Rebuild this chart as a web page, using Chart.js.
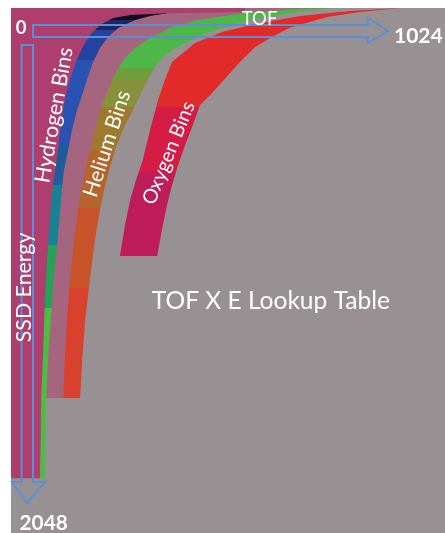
<!DOCTYPE html>
<html>
<head>
<meta charset="utf-8">
<script src="https://cdn.jsdelivr.net/npm/chart.js@4.4.0/dist/chart.umd.min.js"></script>
<style>
html,body{margin:0;padding:0;background:#ffffff;}
canvas{display:block;}
</style>
</head>
<body>
<canvas id="c" width="445" height="533"></canvas>
<script>
// ---- axis ranges / tick labels ----
const tofRange = [0, 1024];
const energyRange = [0, 2048];

// ---- boundary curves (TOF channel, SSD energy channel) ----
// Hydrogen band, inner (upper-left) edge
const hInnerTof = [0, 68, 70, 71, 76, 80, 85, 90, 94, 99, 104, 111, 116, 123, 130, 139, 153, 168, 186, 210, 241, 281, 368, 552];
const hInnerE   = [1834, 1834, 1685, 1529, 1334, 1139, 983, 866, 769, 691, 632, 554, 476, 398, 339, 281, 211, 156, 105, 66, 39, 27, 20, 16];
// Hydrogen band, outer edge
const hOuterTof = [0, 80, 81, 83, 87, 92, 97, 100, 104, 109, 116, 120, 125, 135, 144, 156, 168, 179, 194, 210, 229, 253, 293, 328, 368];
const hOuterE   = [1834, 1834, 1685, 1529, 1373, 1256, 1139, 1061, 991, 925, 788, 710, 632, 554, 476, 398, 339, 281, 211, 156, 113, 78, 47, 31, 20];
// Helium band, inner edge
const heInnerTof = [0, 123, 127, 132, 139, 149, 158, 170, 186, 210, 229, 250, 269, 293, 328, 375, 439, 547, 682, 753];
const heInnerE   = [1521, 1521, 1373, 1217, 1061, 905, 788, 671, 554, 398, 320, 242, 195, 156, 117, 78, 47, 20, 4, 0];
// Helium band, outer edge
const heOuterTof = [0, 163, 168, 175, 186, 198, 210, 222, 245, 269, 288, 316, 347, 380, 434, 481, 564, 658, 753];
const heOuterE   = [1521, 1521, 1373, 1217, 1061, 905, 788, 691, 554, 456, 398, 300, 211, 164, 117, 86, 47, 20, 0];
// Oxygen band, inner edge
const oInnerTof = [0, 257, 269, 281, 295, 311, 328, 347, 363, 380, 434, 498, 576, 682, 800, 918];
const oInnerE   = [967, 967, 847, 749, 671, 593, 476, 359, 281, 211, 137, 94, 62, 31, 12, 0];
// Oxygen band, outer edge
const oOuterTof = [0, 345, 356, 368, 380, 394, 411, 429, 446, 470, 498, 538, 576, 616, 656, 746, 823, 918];
const oOuterE   = [967, 967, 866, 769, 691, 613, 534, 456, 378, 339, 289, 215, 152, 113, 78, 35, 16, 0];

// ---- energy bin edges inside each band ----
const hBinEdges  = [0, 47, 86, 203, 534, 691, 925, 1170, 2048];
const heBinEdges = [0, 234, 281, 386, 554, 780, 1092, 2048];
const oBinEdges  = [0, 386, 640, 2048];

// ---- styles ----
const hBinColors  = ['#0e0e20', '#1c2866', '#2443a0', '#2a52b2', '#1e5d9c', '#1a8093', '#22a356', '#4dbc42'];
const heBinColors = ['#4db748', '#6e9f3c', '#88903a', '#9e7a30', '#b5652b', '#c9532b', '#d8412d'];
const oBinColors  = ['#e22a2b', '#d41c45', '#be1d5a'];
const GRAY = '#979193';
const PINK = '#ad3e6e';
const MAUVE = '#a6657f';
const ARROW = '#5b8fd4';

// ---- arrows (TOF / SSD energy units) ----
const tofArrow = {tofStart: 52, tofHead: 842, tofTip: 890, eTop: 66, eBottom: 113, eHeadTop: 39, eHeadBottom: 137, eMid: 90};
const energyArrow = {eStart: 144, eHead: 1849, eTip: 1931, tofLeft: 25, tofRight: 52, tofHeadLeft: 0, tofHeadRight: 80, tofMid: 38};

// ---- text labels ----
const labelText  = ['0', 'TOF', '1024', '2048', 'SSD Energy', 'Hydrogen Bins', 'Helium Bins', 'Oxygen Bins', 'TOF X E Lookup Table'];
const labelTof   = [24, 586, 962, 77, 35, 104, 224, 374, 612];
const labelE     = [76, 39, 107, 2007, 1090, 417, 527, 568, 1143];
const labelWidth = [10, 35, 47, 47, 109, 135, 108, 108, 237];
const labelAngle = [0, 0, 0, 0, -90, -80, -72, -68, 0];
const labelBold  = [true, false, true, true, false, false, false, false, false];

function pts(xs, ys) { return xs.map((x, i) => ({x: x, y: ys[i]})); }

function stepGradient(chart, edges, colors) {
  const a = chart.chartArea;
  if (!a || !chart.scales || !chart.scales.y) return colors[0];
  const y = chart.scales.y;
  const H = a.bottom - a.top;
  const g = chart.ctx.createLinearGradient(0, a.top, 0, a.bottom);
  const cl = v => Math.max(0, Math.min(1, v));
  for (let i = 0; i < colors.length; i++) {
    const f0 = cl((y.getPixelForValue(edges[i]) - a.top) / H);
    const f1 = cl((y.getPixelForValue(edges[i + 1]) - a.top) / H);
    g.addColorStop(f0, colors[i]);
    g.addColorStop(f1, colors[i]);
  }
  return g;
}

function region(label, xs, ys, color) {
  return {
    label: label,
    data: pts(xs, ys),
    fill: {value: 0},
    backgroundColor: color,
    borderColor: 'rgba(0,0,0,0)',
    borderWidth: 0,
    pointRadius: 0,
    pointHoverRadius: 0,
    tension: 0
  };
}

const datasets = [
  region('Hydrogen inner', hInnerTof, hInnerE, PINK),
  region('Hydrogen Bins', hOuterTof, hOuterE, c => stepGradient(c.chart, hBinEdges, hBinColors)),
  region('Helium inner', heInnerTof, heInnerE, MAUVE),
  region('Helium Bins', heOuterTof, heOuterE, c => stepGradient(c.chart, heBinEdges, heBinColors)),
  region('Oxygen inner', oInnerTof, oInnerE, GRAY),
  region('Oxygen Bins', oOuterTof, oOuterE, c => stepGradient(c.chart, oBinEdges, oBinColors))
];

const deco = {
  id: 'deco',
  beforeDraw(chart) {
    const {ctx, chartArea: a} = chart;
    ctx.save();
    ctx.fillStyle = GRAY;
    ctx.fillRect(a.left, a.top, a.right - a.left, a.bottom - a.top);
    ctx.restore();
  },
  afterDatasetsDraw(chart) {
    const {ctx} = chart;
    const X = v => chart.scales.x.getPixelForValue(v);
    const Y = v => chart.scales.y.getPixelForValue(v);
    ctx.save();
    ctx.strokeStyle = ARROW;
    ctx.lineWidth = 2;
    ctx.lineJoin = 'miter';
    // TOF arrow
    const h = tofArrow;
    ctx.beginPath();
    ctx.moveTo(X(h.tofStart), Y(h.eTop));
    ctx.lineTo(X(h.tofHead), Y(h.eTop));
    ctx.lineTo(X(h.tofHead), Y(h.eHeadTop));
    ctx.lineTo(X(h.tofTip), Y(h.eMid));
    ctx.lineTo(X(h.tofHead), Y(h.eHeadBottom));
    ctx.lineTo(X(h.tofHead), Y(h.eBottom));
    ctx.lineTo(X(h.tofStart), Y(h.eBottom));
    ctx.closePath();
    ctx.stroke();
    // Energy arrow
    const v = energyArrow;
    ctx.beginPath();
    ctx.moveTo(X(v.tofLeft), Y(v.eStart));
    ctx.lineTo(X(v.tofLeft), Y(v.eHead));
    ctx.lineTo(X(v.tofHeadLeft) + 1, Y(v.eHead));
    ctx.lineTo(X(v.tofMid), Y(v.eTip));
    ctx.lineTo(X(v.tofHeadRight), Y(v.eHead));
    ctx.lineTo(X(v.tofRight), Y(v.eHead));
    ctx.lineTo(X(v.tofRight), Y(v.eStart));
    ctx.closePath();
    ctx.stroke();
    ctx.restore();

    // labels
    for (let i = 0; i < labelText.length; i++) {
      const txt = labelText[i];
      const weight = labelBold[i] ? 'bold ' : '';
      ctx.save();
      ctx.font = weight + '100px Lato, "Open Sans", sans-serif';
      let m = ctx.measureText(txt);
      const w100 = m.actualBoundingBoxLeft + m.actualBoundingBoxRight;
      const size = 100 * labelWidth[i] / w100;
      ctx.font = weight + size.toFixed(2) + 'px Lato, "Open Sans", sans-serif';
      m = ctx.measureText(txt);
      const asc = m.actualBoundingBoxAscent, desc = m.actualBoundingBoxDescent;
      const wl = m.actualBoundingBoxLeft, wr = m.actualBoundingBoxRight;
      ctx.translate(X(labelTof[i]), Y(labelE[i]));
      ctx.rotate(labelAngle[i] * Math.PI / 180);
      ctx.fillStyle = '#ffffff';
      ctx.textAlign = 'left';
      ctx.textBaseline = 'alphabetic';
      ctx.fillText(txt, -(wl + wr) / 2 + wl, (asc - desc) / 2);
      ctx.restore();
    }
  }
};

new Chart(document.getElementById('c'), {
  type: 'line',
  data: {datasets: datasets},
  options: {
    responsive: false,
    animation: false,
    devicePixelRatio: 1,
    layout: {padding: {left: 11, top: 8, right: 0, bottom: 0}},
    plugins: {legend: {display: false}, tooltip: {enabled: false}},
    events: [],
    scales: {
      x: {type: 'linear', display: false, min: tofRange[0], max: tofRange[1]},
      y: {type: 'linear', display: false, min: energyRange[0], max: energyRange[1], reverse: true}
    }
  },
  plugins: [deco]
});
</script>
</body>
</html>
